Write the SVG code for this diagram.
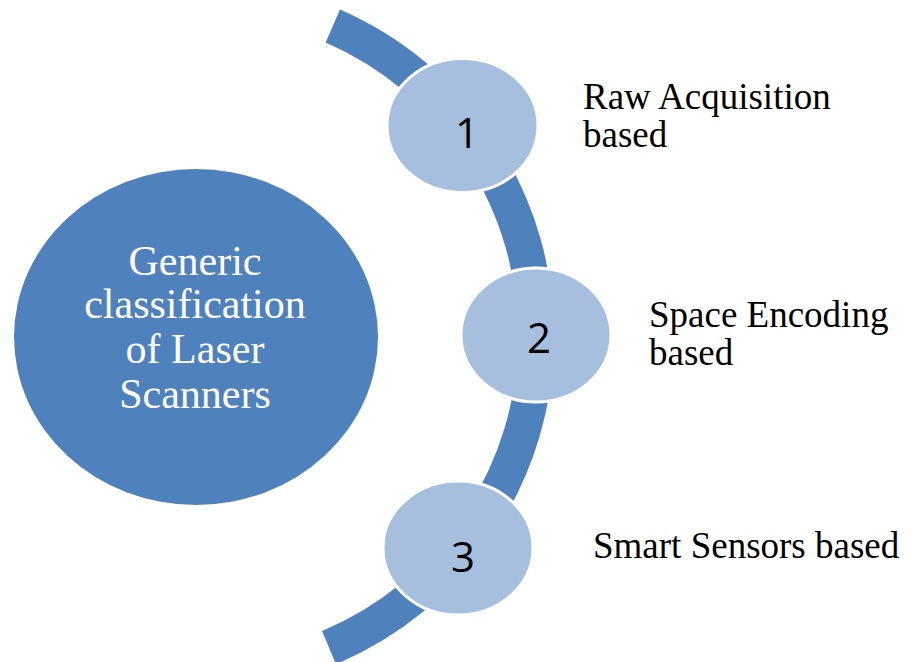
<svg xmlns="http://www.w3.org/2000/svg" width="913" height="662" viewBox="0 0 913 662">
  <style>
    .band { fill: none; stroke: #4F81BD; stroke-width: 36; stroke-linecap: butt; }
    .hub { fill: #4F81BD; }
    .hub-text { font-family: "Liberation Serif", "Times New Roman", serif; font-size: 42px; fill: #FFFFFF; text-anchor: middle; }
    .step { fill: #A7BFDE; stroke: #FFFFFF; stroke-width: 3; }
    .step-num { font-family: "Open Sans", "Liberation Sans", sans-serif; font-size: 42px; fill: #000000; text-anchor: middle; }
    .label { font-family: "Liberation Serif", "Times New Roman", serif; font-size: 37px; fill: #000000; }
  </style>
  <rect width="913" height="662" fill="#FFFFFF"/>

  <!-- curved band linking the three steps -->
  <g id="connectors">
    <path class="band" d="M 332.8 26 A 338 338 0 0 1 329 647.6"/>
  </g>

  <g id="hub">
    <ellipse class="hub" cx="196" cy="337" rx="182" ry="168"/>
    <text class="hub-text" x="195" y="275">Generic</text>
    <text class="hub-text" x="195" y="318">classification</text>
    <text class="hub-text" x="195" y="363">of Laser</text>
    <text class="hub-text" x="195" y="408">Scanners</text>
  </g>

  <g id="step1">
    <ellipse class="step" cx="462.5" cy="125.5" rx="75.5" ry="67"/>
    <text class="step-num" x="467" y="148">1</text>
    <text class="label" x="583" y="109">Raw Acquisition</text>
    <text class="label" x="583" y="147">based</text>
  </g>

  <g id="step2">
    <ellipse class="step" cx="536" cy="335" rx="75" ry="67"/>
    <text class="step-num" x="539" y="353">2</text>
    <text class="label" x="649" y="327">Space Encoding</text>
    <text class="label" x="649" y="365">based</text>
  </g>

  <g id="step3">
    <ellipse class="step" cx="458" cy="548" rx="75" ry="67"/>
    <text class="step-num" x="463" y="572">3</text>
    <text class="label" x="593" y="558">Smart Sensors based</text>
  </g>
</svg>
